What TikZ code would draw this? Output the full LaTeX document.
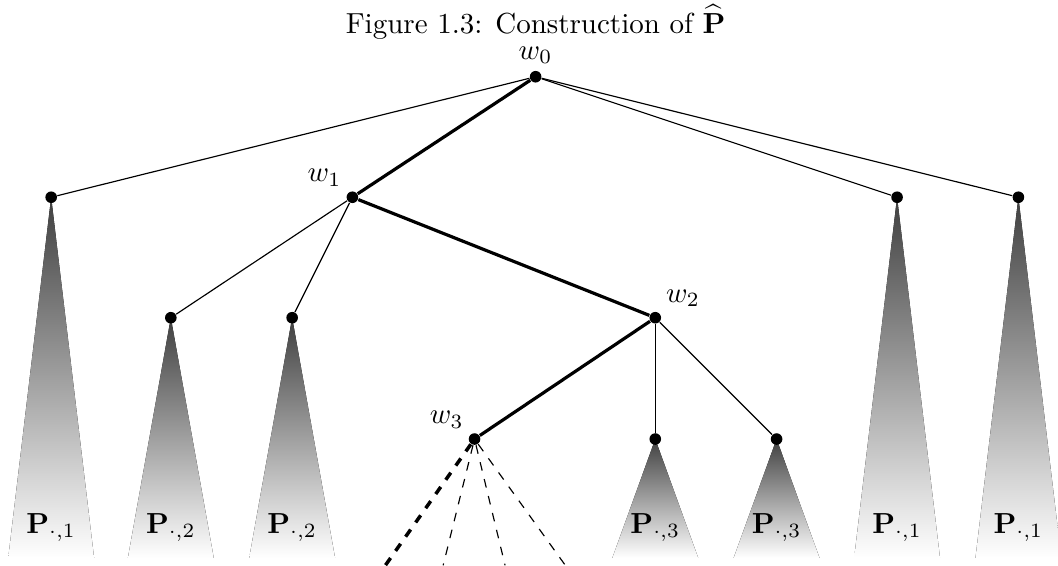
\documentclass[tikz,border=0pt]{standalone}
\usepackage{amsmath}
\usetikzlibrary{backgrounds}

\begin{document}
\begin{tikzpicture}[thin,
  dot/.style={circle,fill,inner sep=0pt,minimum size=4pt},
  heavy/.style={line width=1.1pt},
  cone/.style={top color=black!75,bottom color=white},
  every label/.style={inner sep=2pt}]
  \useasboundingbox (0,0) rectangle (12.82,-6.85);
  \node[anchor=base] (title) at (6.49,-0.40) {Figure 1.3: Construction of $\widehat{\mathbf{P}}$};
  % tree
  \node[dot,label={above:$w_0$}] (w0) at (6.49,-0.93) {};
  \node[dot] (l1a) at (0.62,-2.39) {};
  \node[dot,label={above left:$w_1$}] (w1) at (4.27,-2.39) {};
  \node[dot] (l1c) at (10.87,-2.39) {};
  \node[dot] (l1d) at (12.34,-2.39) {};
  \node[dot] (l2a) at (2.07,-3.85) {};
  \node[dot] (l2b) at (3.54,-3.85) {};
  \node[dot,label={above right:$w_2$}] (w2) at (7.94,-3.85) {};
  \node[dot,label={above left:$w_3$}] (w3) at (5.75,-5.32) {};
  \node[dot] (l3b) at (7.94,-5.32) {};
  \node[dot] (l3c) at (9.41,-5.32) {};
  \draw (w0) -- (l1a);
  \draw[heavy] (w0) -- (w1);
  \draw (w0) -- (l1c);
  \draw (w0) -- (l1d);
  \draw (w1) -- (l2a);
  \draw (w1) -- (l2b);
  \draw[heavy] (w1) -- (w2);
  \draw[heavy] (w2) -- (w3);
  \draw (w2) -- (l3b);
  \draw (w2) -- (l3c);
  % subtrees
  \begin{scope}[on background layer]
    \fill[cone] (l1a.center) -- ++(-0.52,-4.37) -- ++(1.04,0) -- cycle;
    \fill[cone] (l1c.center) -- ++(-0.52,-4.37) -- ++(1.04,0) -- cycle;
    \fill[cone] (l1d.center) -- ++(-0.52,-4.37) -- ++(1.04,0) -- cycle;
    \fill[cone] (l2a.center) -- ++(-0.52,-2.91) -- ++(1.04,0) -- cycle;
    \fill[cone] (l2b.center) -- ++(-0.52,-2.91) -- ++(1.04,0) -- cycle;
    \fill[cone] (l3b.center) -- ++(-0.52,-1.44) -- ++(1.04,0) -- cycle;
    \fill[cone] (l3c.center) -- ++(-0.52,-1.44) -- ++(1.04,0) -- cycle;
  \end{scope}
  \node[anchor=base] (p1a) at (0.62,-6.46) {$\mathbf{P}_{\cdot,1}$};
  \node[anchor=base] (p2a) at (2.07,-6.46) {$\mathbf{P}_{\cdot,2}$};
  \node[anchor=base] (p2b) at (3.54,-6.46) {$\mathbf{P}_{\cdot,2}$};
  \node[anchor=base] (p3b) at (7.94,-6.46) {$\mathbf{P}_{\cdot,3}$};
  \node[anchor=base] (p3c) at (9.41,-6.46) {$\mathbf{P}_{\cdot,3}$};
  \node[anchor=base] (p1c) at (10.87,-6.46) {$\mathbf{P}_{\cdot,1}$};
  \node[anchor=base] (p1d) at (12.34,-6.46) {$\mathbf{P}_{\cdot,1}$};
  % unexplored children of w3
  \coordinate (d1) at (4.67,-6.85);
  \coordinate (d2) at (5.37,-6.85);
  \coordinate (d3) at (6.12,-6.85);
  \coordinate (d4) at (6.85,-6.85);
  \draw[very thick,dashed] (w3) -- (d1);
  \draw[dashed] (w3) -- (d2);
  \draw[dashed] (w3) -- (d3);
  \draw[dashed] (w3) -- (d4);
\end{tikzpicture}
\end{document}
